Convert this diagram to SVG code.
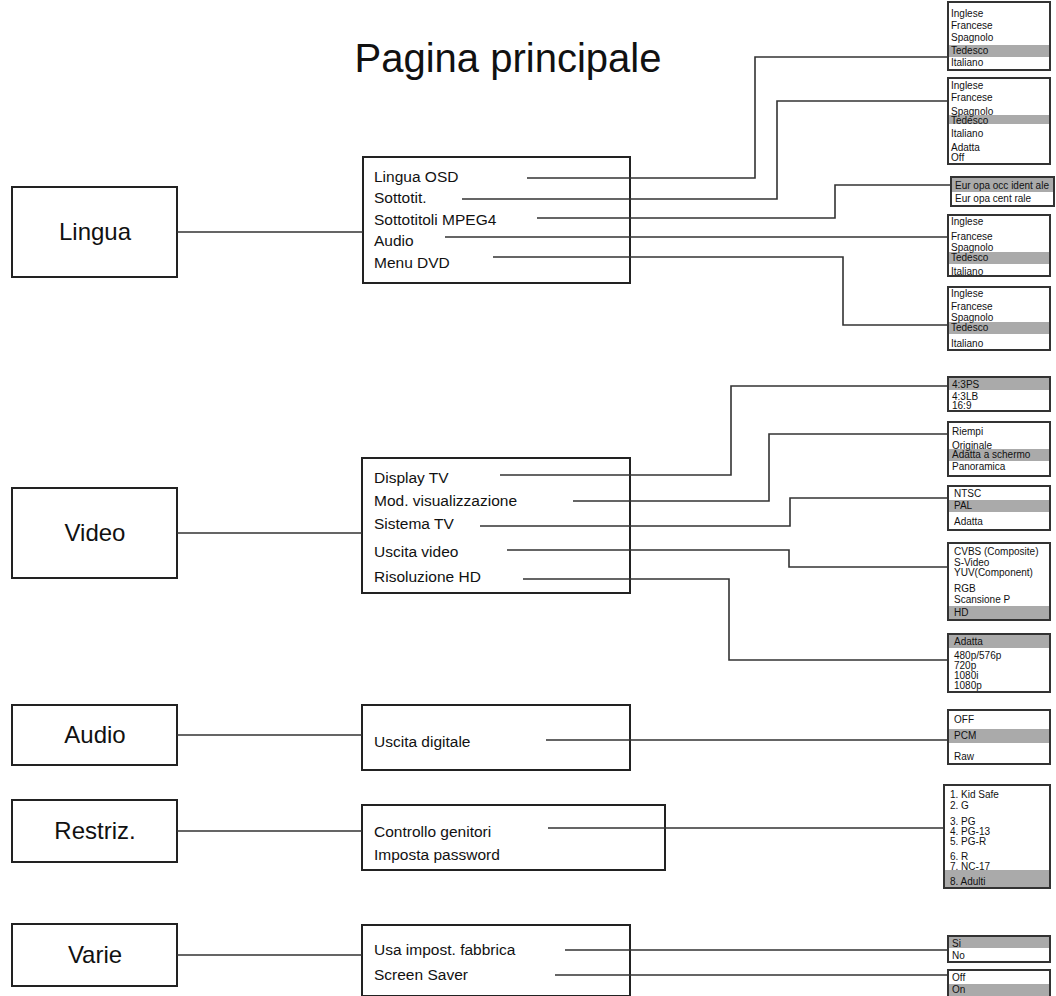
<svg xmlns="http://www.w3.org/2000/svg" width="1056" height="996" viewBox="0 0 1056 996">
<style>
text{font-family:"Liberation Sans",Arial,sans-serif;fill:#111}
.bx{fill:#fff;stroke:#222;stroke-width:2}
.rb{fill:#fff;stroke:#333;stroke-width:2}
.big{font-size:24px;text-anchor:middle}
.mid{font-size:15.5px}
.sm{font-size:10px}
.hl{fill:#aaa}
.ln{fill:none;stroke:#333;stroke-width:1.6}
</style>
<rect width="1056" height="996" fill="#fff"/>
<text x="508" y="72" font-size="40" text-anchor="middle">Pagina principale</text>
<g id="lingua"><rect class="bx" x="12" y="187" width="165" height="90"/><text class="big" x="95" y="232" dy="8">Lingua</text></g>
<g id="video"><rect class="bx" x="12" y="488" width="165" height="90"/><text class="big" x="95" y="533" dy="8">Video</text></g>
<g id="audio"><rect class="bx" x="12" y="705" width="165" height="60"/><text class="big" x="95" y="735" dy="8">Audio</text></g>
<g id="restriz"><rect class="bx" x="12" y="800" width="165" height="62"/><text class="big" x="95" y="831" dy="8">Restriz.</text></g>
<g id="varie"><rect class="bx" x="12" y="924" width="165" height="62"/><text class="big" x="95" y="955" dy="8">Varie</text></g>
<g id="lingua-menu"><rect class="bx" x="363" y="157" width="267" height="126"/>
<text class="mid" x="374" y="182">Lingua OSD</text><text class="mid" x="374" y="203">Sottotit.</text><text class="mid" x="374" y="225">Sottotitoli MPEG4</text><text class="mid" x="374" y="246">Audio</text><text class="mid" x="374" y="268">Menu DVD</text></g>
<g id="video-menu"><rect class="bx" x="362" y="458" width="268" height="135"/>
<text class="mid" x="374" y="483">Display TV</text><text class="mid" x="374" y="506">Mod. visualizzazione</text><text class="mid" x="374" y="529">Sistema TV</text><text class="mid" x="374" y="557">Uscita video</text><text class="mid" x="374" y="582">Risoluzione HD</text></g>
<g id="audio-menu"><rect class="bx" x="362" y="705" width="268" height="65" stroke-width="3"/><text class="mid" x="374" y="747">Uscita digitale</text></g>
<g id="restriz-menu"><rect class="bx" x="362" y="805" width="303" height="65"/><text class="mid" x="374" y="837">Controllo genitori</text><text class="mid" x="374" y="860">Imposta password</text></g>
<g id="varie-menu"><rect class="bx" x="362" y="925" width="268" height="71"/><text class="mid" x="374" y="955">Usa impost. fabbrica</text><text class="mid" x="374" y="980">Screen Saver</text></g>

<g id="connectors">
<path class="ln" d="M177 232H363M177 533H362M177 735H362M177 831H362M177 955H362"/>
<path class="ln" d="M527 178H755V57H948M462 199H777V101H948M537 218H835V185H952M445 237H948M493 257H843V325H948"/>
<path class="ln" d="M500 475H731V386H948M573 501H769V434H948M480 526H790V498H948M507 550H789V567H948M523 579H729V660H948"/>
<path class="ln" d="M546 740H948M548 828H944M565 950H948M555 975H948"/>
</g>

<g id="osd-opts"><rect class="rb" x="948" y="2" width="102" height="68"/><rect class="hl" x="949" y="45" width="100" height="12"/>
<text class="sm" x="951" y="17">Inglese</text><text class="sm" x="951" y="29">Francese</text><text class="sm" x="951" y="41">Spagnolo</text><text class="sm" x="951" y="54">Tedesco</text><text class="sm" x="951" y="66">Italiano</text></g>
<g id="sub-opts"><rect class="rb" x="948" y="78" width="102" height="86"/><rect class="hl" x="949" y="115" width="100" height="9"/>
<text class="sm" x="951" y="89">Inglese</text><text class="sm" x="951" y="101">Francese</text><text class="sm" x="951" y="115">Spagnolo</text><text class="sm" x="951" y="124">Tedesco</text><text class="sm" x="951" y="137">Italiano</text><text class="sm" x="951" y="151">Adatta</text><text class="sm" x="951" y="161">Off</text></g>
<g id="mpeg4-opts"><rect class="rb" x="951" y="177" width="103" height="29"/><rect class="hl" x="952" y="178" width="101" height="14"/>
<text class="sm" x="955" y="189">Eur opa  occ ident ale</text><text class="sm" x="955" y="202">Eur opa  cent rale</text></g>
<g id="audio-opts"><rect class="rb" x="948" y="215" width="102" height="61"/><rect class="hl" x="949" y="252" width="100" height="12"/>
<text class="sm" x="951" y="225">Inglese</text><text class="sm" x="951" y="240">Francese</text><text class="sm" x="951" y="251">Spagnolo</text><text class="sm" x="951" y="261">Tedesco</text><text class="sm" x="951" y="275">Italiano</text></g>
<g id="dvd-opts"><rect class="rb" x="948" y="287" width="102" height="63"/><rect class="hl" x="949" y="322" width="100" height="12"/>
<text class="sm" x="951" y="297">Inglese</text><text class="sm" x="951" y="310">Francese</text><text class="sm" x="951" y="321">Spagnolo</text><text class="sm" x="951" y="331">Tedesco</text><text class="sm" x="951" y="347">Italiano</text></g>

<g id="tv-opts"><rect class="rb" x="948" y="377" width="102" height="34"/><rect class="hl" x="949" y="378" width="100" height="12"/>
<text class="sm" x="952" y="388">4:3PS</text><text class="sm" x="952" y="400">4:3LB</text><text class="sm" x="952" y="409" font-size="9">16:9</text></g>
<g id="vis-opts"><rect class="rb" x="948" y="422" width="102" height="54"/><rect class="hl" x="949" y="449" width="100" height="12"/>
<text class="sm" x="952" y="435">Riempi</text><text class="sm" x="952" y="449">Originale</text><text class="sm" x="952" y="458">Adatta a schermo</text><text class="sm" x="952" y="470">Panoramica</text></g>
<g id="sys-opts"><rect class="rb" x="948" y="486" width="102" height="44"/><rect class="hl" x="949" y="500" width="100" height="12"/>
<text class="sm" x="954" y="497">NTSC</text><text class="sm" x="954" y="509">PAL</text><text class="sm" x="954" y="525">Adatta</text></g>
<g id="out-opts"><rect class="rb" x="948" y="543" width="102" height="77"/><rect class="hl" x="949" y="606" width="100" height="13"/>
<text class="sm" x="954" y="555">CVBS (Composite)</text><text class="sm" x="954" y="566">S-Video</text><text class="sm" x="954" y="576">YUV(Component)</text><text class="sm" x="954" y="592">RGB</text><text class="sm" x="954" y="603">Scansione P</text><text class="sm" x="954" y="616">HD</text></g>
<g id="hd-opts"><rect class="rb" x="948" y="634" width="102" height="58"/><rect class="hl" x="949" y="635" width="100" height="13"/>
<text class="sm" x="954" y="645">Adatta</text><text class="sm" x="954" y="659">480p/576p</text><text class="sm" x="954" y="669">720p</text><text class="sm" x="954" y="679">1080i</text><text class="sm" x="954" y="689">1080p</text></g>

<g id="dig-opts"><rect class="rb" x="948" y="710" width="102" height="54"/><rect class="hl" x="949" y="729" width="100" height="14"/>
<text class="sm" x="954" y="723">OFF</text><text class="sm" x="954" y="739">PCM</text><text class="sm" x="954" y="760">Raw</text></g>
<g id="par-opts"><rect class="rb" x="944" y="785" width="106" height="103"/><rect class="hl" x="945" y="870" width="104" height="17"/>
<text class="sm" x="950" y="798">1. Kid Safe</text><text class="sm" x="950" y="809">2. G</text><text class="sm" x="950" y="825">3. PG</text><text class="sm" x="950" y="835">4. PG-13</text><text class="sm" x="950" y="845">5. PG-R</text><text class="sm" x="950" y="860">6. R</text><text class="sm" x="950" y="870">7. NC-17</text><text class="sm" x="950" y="885">8. Adulti</text></g>
<g id="fab-opts"><rect class="rb" x="948" y="936" width="102" height="26"/><rect class="hl" x="949" y="937" width="100" height="11"/>
<text class="sm" x="952" y="947">Si</text><text class="sm" x="952" y="959">No</text></g>
<g id="ss-opts"><rect class="rb" x="948" y="970" width="102" height="28"/><rect class="hl" x="949" y="984" width="100" height="12"/>
<text class="sm" x="952" y="981">Off</text><text class="sm" x="952" y="993">On</text></g>
</svg>
